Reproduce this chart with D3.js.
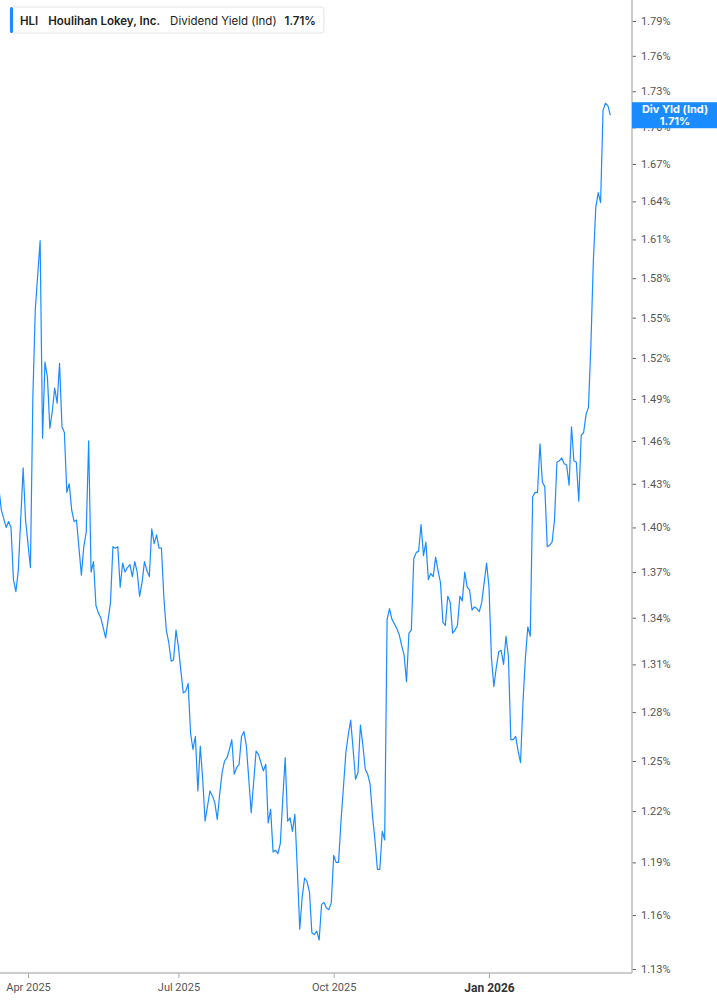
<!DOCTYPE html>
<html>
<head>
<meta charset="utf-8">
<script src="https://cdn.jsdelivr.net/npm/d3@7"></script>
<style>
  html, body { margin: 0; padding: 0; background: #fff; }
  svg { display: block; }
</style>
</head>
<body>
<svg id="chart" width="717" height="1005"></svg>
<script>
// trading-day index (0 = mid Mar 2025) and dividend yield in %
const days = [0,1,3,4,5,6,7,8,10,11,13,14,15,17,18,19,20,21,22,23,24,25,26,27,28,29,30,31,32,34,35,36,37,38,39,40,41,42,44,46,47,48,49,50,51,52,53,54,55,56,57,58,59,60,61,62,63,64,65,66,67,68,69,70,71,72,73,74,75,76,77,78,79,80,81,82,83,84,85,86,87,88,89,90,91,92,93,94,95,96,97,98,99,100,101,102,103,104,105,106,107,108,109,110,111,112,113,114,115,116,117,118,119,120,121,122,123,124,125,126,127,128,129,130,131,132,133,134,135,136,137,138,139,140,141,142,143,144,145,146,147,148,149,150,151,152,153,154,155,156,157,158,159,160,161,162,163,164,165,166,167,168,169,170,171,172,173,174,175,176,177,178,179,180,181,182,183,184,185,186,187,188,189,190,191,192,193,194,195,196,197,198,199,200,201,202,203,204,205,206,207,208,209,210,211,212,213,214,215,216,217,218,219,220,221,222,223,224,225,226,227,228,229,230,231,232,233,234,235,236,237,238,239,240,241,242,243,244,245,246,247,248,249,250,251,252];
const yieldPct = [1.427,1.412,1.400,1.404,1.400,1.365,1.357,1.371,1.441,1.405,1.373,1.491,1.556,1.609,1.462,1.517,1.506,1.469,1.481,1.498,1.487,1.516,1.470,1.466,1.424,1.430,1.412,1.404,1.405,1.368,1.387,1.397,1.460,1.370,1.377,1.348,1.343,1.340,1.327,1.350,1.387,1.386,1.387,1.360,1.376,1.370,1.373,1.375,1.367,1.377,1.370,1.354,1.363,1.377,1.371,1.367,1.399,1.389,1.395,1.386,1.386,1.353,1.332,1.324,1.312,1.313,1.332,1.321,1.306,1.292,1.293,1.298,1.267,1.257,1.265,1.232,1.259,1.239,1.214,1.223,1.232,1.229,1.225,1.215,1.230,1.243,1.250,1.252,1.257,1.263,1.242,1.246,1.248,1.265,1.268,1.259,1.239,1.219,1.237,1.256,1.254,1.249,1.244,1.248,1.213,1.221,1.196,1.197,1.195,1.201,1.227,1.252,1.214,1.216,1.208,1.218,1.186,1.152,1.170,1.181,1.179,1.173,1.150,1.149,1.151,1.146,1.166,1.167,1.164,1.163,1.167,1.194,1.190,1.190,1.214,1.234,1.255,1.266,1.275,1.257,1.239,1.243,1.272,1.260,1.245,1.242,1.236,1.217,1.203,1.186,1.186,1.208,1.203,1.339,1.346,1.339,1.336,1.333,1.329,1.322,1.316,1.299,1.330,1.332,1.379,1.383,1.384,1.402,1.381,1.390,1.365,1.369,1.367,1.380,1.371,1.363,1.337,1.335,1.354,1.350,1.330,1.332,1.335,1.354,1.351,1.370,1.360,1.358,1.345,1.347,1.346,1.344,1.350,1.363,1.376,1.360,1.314,1.296,1.308,1.318,1.319,1.310,1.328,1.315,1.263,1.263,1.265,1.256,1.249,1.286,1.314,1.334,1.328,1.421,1.424,1.424,1.458,1.431,1.428,1.387,1.388,1.390,1.405,1.445,1.446,1.448,1.444,1.443,1.429,1.470,1.446,1.445,1.418,1.464,1.466,1.479,1.484,1.530,1.593,1.635,1.647,1.639,1.714,1.720,1.718,1.710];

const xTickDays = [12, 74, 138, 202];
const xTickLabels = ['Apr 2025', 'Jul 2025', 'Oct 2025', 'Jan 2026'];
const yTicks = [1.13,1.16,1.19,1.22,1.25,1.28,1.31,1.34,1.37,1.40,1.43,1.46,1.49,1.52,1.55,1.58,1.61,1.64,1.67,1.70,1.73,1.76,1.79];

const ticker = 'HLI';
const company = 'Houlihan Lokey, Inc.';
const metric = 'Dividend Yield (Ind)';
const tagName = 'Div Yld (Ind)';

const blue = '#1a8cff';
const plotRight = 632, plotBottom = 973;

const svg = d3.select('#chart');

const x = d3.scaleLinear().domain([12, 202]).range([28, 489]);
const y = d3.scaleLog().domain([1.13, 1.79]).range([969, 21]);

const data = days.map(function(d, i) { return {day: d, v: yieldPct[i]}; });
const last = data[data.length - 1];

svg.append('clipPath').attr('id', 'plot')
    .append('rect').attr('x', 0).attr('y', 0).attr('width', plotRight).attr('height', plotBottom);

// line
svg.append('path')
    .datum(data)
    .attr('clip-path', 'url(#plot)')
    .attr('fill', 'none')
    .attr('stroke', blue)
    .attr('stroke-width', 1.2)
    .attr('stroke-linejoin', 'round')
    .attr('d', d3.line().x(function(d) { return x(d.day); }).y(function(d) { return y(d.v); }));

// right axis
const yAxis = svg.append('g')
    .attr('transform', 'translate(' + plotRight + ',0)')
    .call(d3.axisRight(y).tickValues(yTicks).tickSize(4).tickPadding(5).tickSizeOuter(0)
        .tickFormat(function(d) { return d.toFixed(2) + '%'; }));
yAxis.select('.domain').remove();
yAxis.selectAll('.tick line').attr('stroke', '#666');
yAxis.selectAll('.tick text')
    .attr('fill', '#555')
    .style('font-family', 'Roboto, sans-serif')
    .style('font-size', '11px');

// bottom axis
const xAxis = svg.append('g')
    .attr('transform', 'translate(0,' + plotBottom + ')')
    .call(d3.axisBottom(x).tickValues(xTickDays).tickSize(5).tickPadding(5).tickSizeOuter(0)
        .tickFormat(function(d, i) { return xTickLabels[i]; }));
xAxis.select('.domain').remove();
xAxis.selectAll('.tick line').attr('stroke', '#aaa');
xAxis.selectAll('.tick text')
    .attr('fill', function(d, i) { return i === 3 ? '#333' : '#555'; })
    .style('font-family', 'Roboto, sans-serif')
    .style('font-size', function(d, i) { return i === 3 ? '12px' : '11px'; })
    .style('font-weight', function(d, i) { return i === 3 ? 'bold' : 'normal'; });

// axis frame lines
svg.append('line')
    .attr('x1', plotRight).attr('x2', plotRight).attr('y1', 0).attr('y2', plotBottom)
    .attr('stroke', '#bbb').attr('stroke-width', 1.5);
svg.append('line')
    .attr('x1', 0).attr('x2', plotRight).attr('y1', plotBottom).attr('y2', plotBottom)
    .attr('stroke', '#bbb').attr('stroke-width', 1.5);

// last value tag
const tag = svg.append('g').attr('transform', 'translate(' + plotRight + ',' + y(last.v) + ')');
tag.append('rect')
    .attr('x', 0).attr('y', -13).attr('width', 717 - plotRight).attr('height', 26)
    .attr('fill', blue);
tag.append('text')
    .attr('x', 43).attr('y', -2)
    .attr('text-anchor', 'middle')
    .attr('fill', '#fff')
    .style('font-family', 'Inter, sans-serif').style('font-size', '11px').style('font-weight', 'bold')
    .text(tagName);
tag.append('text')
    .attr('x', 43).attr('y', 10)
    .attr('text-anchor', 'middle')
    .attr('fill', '#fff')
    .style('font-family', 'Inter, sans-serif').style('font-size', '11px').style('font-weight', 'bold')
    .text(last.v.toFixed(2) + '%');

// legend
const legend = svg.append('g');
const legendBox = legend.append('rect')
    .attr('x', 10).attr('y', 7).attr('height', 26).attr('rx', 3)
    .attr('fill', '#fff').attr('stroke', '#e4e4e4');
legend.append('rect')
    .attr('x', 10).attr('y', 7).attr('width', 3).attr('height', 26).attr('rx', 1.5)
    .attr('fill', blue);

const parts = [
    {t: ticker, w: 'bold', gap: 10},
    {t: company, w: 'bold', gap: 10},
    {t: metric, w: 'normal', gap: 8},
    {t: last.v.toFixed(2) + '%', w: 'bold', gap: 0}
];
let cx = 20;
parts.forEach(function(p) {
    const t = legend.append('text')
        .attr('x', cx).attr('y', 25)
        .attr('fill', '#222')
        .style('font-family', 'Inter, sans-serif')
        .style('font-size', '11.5px')
        .style('font-weight', p.w === 'bold' ? 600 : 400)
        .text(p.t);
    cx += t.node().getComputedTextLength() + p.gap;
});
legendBox.attr('width', cx - 10 + 8);
</script>
</body>
</html>
